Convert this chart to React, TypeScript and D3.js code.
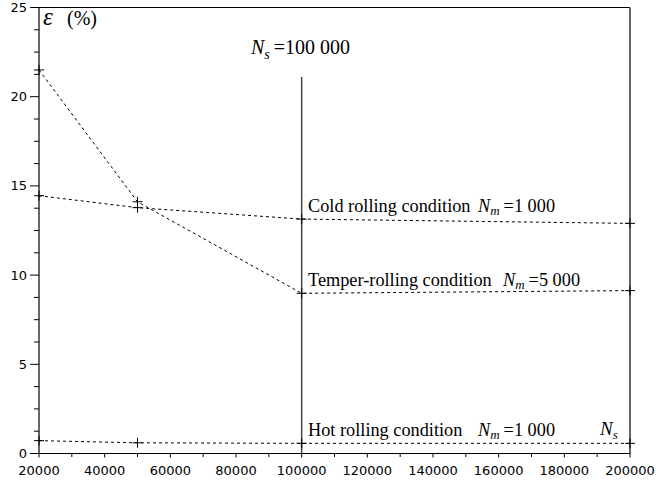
import React from "react";
import * as d3 from "d3";

// Rolling conditions and their measured error ε (%) versus number of samples N_s
const sampleCounts = [20000, 50000, 100000, 200000];
const coldEps = [14.45, 13.78, 13.14, 12.9];
const temperEps = [21.5, 14.11, 8.98, 9.13];
const hotEps = [0.72, 0.6, 0.57, 0.57];
const conditionNames = ["Cold rolling condition", "Temper-rolling condition", "Hot rolling condition"];
const nmValues = ["1 000", "5 000", "1 000"];

const xTicks = [20000, 40000, 60000, 80000, 100000, 120000, 140000, 160000, 180000, 200000];
const xMinorTicks = d3.range(30000, 200000, 20000);
const yTicks = [0, 5, 10, 15, 20, 25];
const yMinorTicks = d3.range(0, 25, 1.25).filter((v) => v % 5 !== 0);

const markerN = 100000;
const markerTop = 21.1;

const W = 656;
const H = 483;
const left = 39;
const right = 630;
const top = 7.5;
const bottom = 453.5;

export default function App() {
  const x = d3.scaleLinear().domain([20000, 200000]).range([left, right]);
  const y = d3.scaleLinear().domain([0, 25]).range([bottom, top]);
  const line = d3
    .line<[number, number]>()
    .x((d) => x(d[0]))
    .y((d) => y(d[1]));

  const series = [coldEps, temperEps, hotEps];
  const nmX = [478, 503, 478];

  const cross = (cx: number, cy: number) =>
    `M${cx - 5},${cy}H${cx + 5}M${cx},${cy - 5}V${cy + 5}`;

  const sans = "DejaVu Sans, sans-serif";
  const serif = "Liberation Serif, Times New Roman, serif";

  return (
    <svg
      width={W}
      height={H}
      style={{ position: "absolute", left: 0, top: 0, background: "#fff" }}
    >
      <rect x={0} y={0} width={W} height={H} fill="#fff" />
      {/* frame */}
      <line x1={left} x2={right} y1={top} y2={top} stroke="#000" strokeWidth={1} />
      <line x1={right} x2={right} y1={top} y2={bottom} stroke="#333" strokeWidth={1.5} />
      <line x1={left} x2={left} y1={top} y2={bottom} stroke="#000" strokeWidth={1.2} />
      <line x1={left} x2={right} y1={bottom} y2={bottom} stroke="#000" strokeWidth={1.2} />

      {/* x axis ticks */}
      {xTicks.map((t) => (
        <g key={"xt" + t}>
          <line x1={x(t)} x2={x(t)} y1={bottom} y2={bottom + 4} stroke="#000" />
          <text
            x={x(t)}
            y={bottom + 21.5}
            textAnchor="middle"
            fontFamily={sans}
            fontSize={13}
            fill="#000"
          >
            {t}
          </text>
        </g>
      ))}
      {xMinorTicks.map((t) => (
        <line key={"xm" + t} x1={x(t)} x2={x(t)} y1={bottom} y2={bottom + 3.5} stroke="#000" />
      ))}

      {/* y axis ticks */}
      {yTicks.map((t) => (
        <g key={"yt" + t}>
          <line x1={left - 9} x2={left} y1={y(t)} y2={y(t)} stroke="#000" />
          <text
            x={left - 12}
            y={y(t) + 4.5}
            textAnchor="end"
            fontFamily={sans}
            fontSize={13}
            fill="#000"
          >
            {t}
          </text>
        </g>
      ))}
      {yMinorTicks.map((t) => (
        <line key={"ym" + t} x1={left - 5} x2={left} y1={y(t)} y2={y(t)} stroke="#000" />
      ))}

      {/* vertical marker at N_s = 100 000 */}
      <line
        x1={x(markerN)}
        x2={x(markerN)}
        y1={y(markerTop)}
        y2={bottom}
        stroke="#444"
        strokeWidth={1.5}
      />
      <text x={251} y={54} fontFamily={serif} fontSize={20} fill="#000">
        <tspan fontStyle="italic">N</tspan>
        <tspan fontSize={14} fontStyle="italic" dy={5}>s</tspan>
        <tspan dy={-5} dx={4}>=100 000</tspan>
      </text>

      {/* series */}
      {series.map((vals, i) => {
        const pts = sampleCounts.map((n, j) => [n, vals[j]] as [number, number]);
        return (
          <g key={"s" + i}>
            <path
              d={line(pts) || ""}
              fill="none"
              stroke="#000"
              strokeWidth={1}
              strokeDasharray="3,3"
            />
            {pts.map((p, j) => (
              <path key={j} d={cross(x(p[0]), y(p[1]))} stroke="#000" strokeWidth={1} fill="none" />
            ))}
            <text
              x={308}
              y={y(vals[2]) - 7}
              fontFamily={serif}
              fontSize={18.3}
              fill="#000"
            >
              {conditionNames[i]}
            </text>
            <text x={nmX[i]} y={y(vals[2]) - 7} fontFamily={serif} fontSize={18.3} fill="#000">
              <tspan fontStyle="italic">N</tspan>
              <tspan fontSize={13} fontStyle="italic" dy={3}>m</tspan>
              <tspan dy={-3} dx={4}>{"=" + nmValues[i]}</tspan>
            </text>
          </g>
        );
      })}

      {/* axis titles */}
      <text x={600} y={435} fontFamily={serif} fontSize={19} fill="#000">
        <tspan fontStyle="italic">N</tspan>
        <tspan fontSize={13} fontStyle="italic" dy={4}>s</tspan>
      </text>
      <text x={43} y={25} fontFamily={serif} fill="#000">
        <tspan fontSize={25} fontStyle="italic">ε</tspan>
        <tspan x={67} fontSize={20}>(%)</tspan>
      </text>
    </svg>
  );
}
